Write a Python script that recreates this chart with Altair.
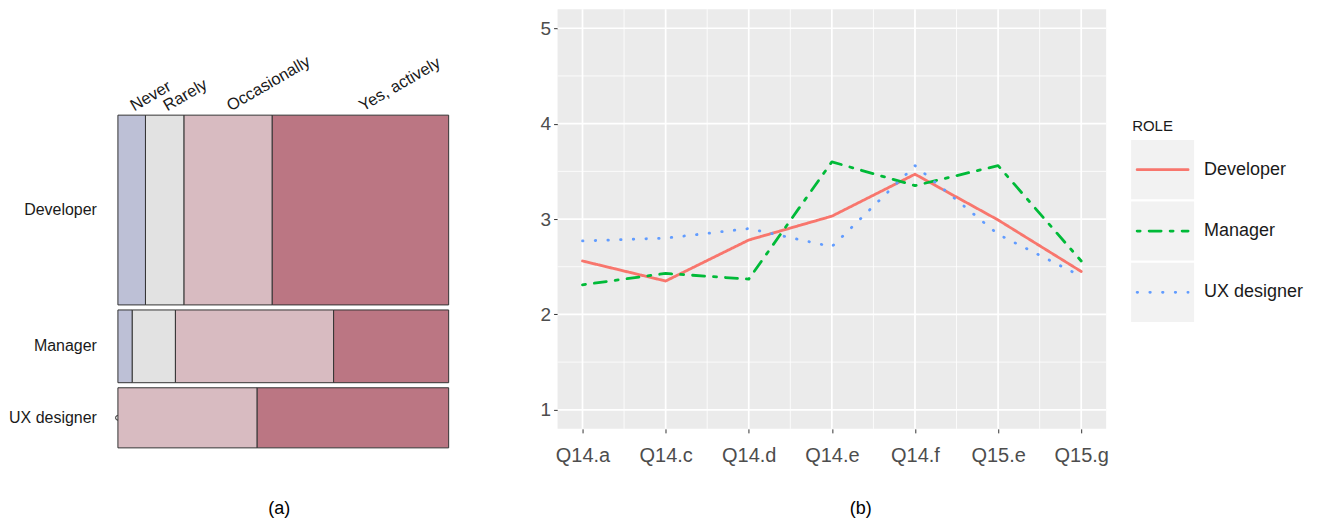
import altair as alt
import pandas as pd

# ---------------- (a) mosaic data ----------------
roles = ["Developer", "Manager", "UX designer"]
responses = ["Never", "Rarely", "Occasionally", "Yes, actively"]
resp_colors = ["#BDC0D6", "#E2E2E2", "#D8BBC1", "#BB7683"]
developer_counts = [5, 7, 16, 32]
manager_counts = [1, 3, 11, 8]
ux_counts = [0, 0, 8, 11]

# ---------------- (b) line data ----------------
questions = ["Q14.a", "Q14.c", "Q14.d", "Q14.e", "Q14.f", "Q15.e", "Q15.g"]
developer_scores = [2.56, 2.35, 2.78, 3.03, 3.47, 2.99, 2.45]
manager_scores = [2.31, 2.43, 2.37, 3.60, 3.35, 3.56, 2.56]
ux_scores = [2.77, 2.80, 2.90, 2.71, 3.56, 2.84, 2.40]
role_colors = ["#F8766D", "#00BA38", "#619CFF"]
role_dashes = [[1, 0], [3, 9, 12, 9], [0.5, 12.2]]

FONT = "Liberation Sans"

# ---------- build mosaic table ----------
GAP = 1.6    # gap between rows (count units)
TOP = 33.5   # empty space above the mosaic (count units)
counts_by_role = [developer_counts, manager_counts, ux_counts]
row_tot = [sum(c) for c in counts_by_role]
row_bottom = {}
yb = 0.0
for r, tot in reversed(list(zip(roles, row_tot))):
    row_bottom[r] = yb
    yb += tot + GAP
y_max = sum(row_tot) + GAP * (len(roles) - 1) + TOP

cells, zeros = [], []
for r, cnts, tot in zip(roles, counts_by_role, row_tot):
    cum = 0
    for resp, c in zip(responses, cnts):
        x0 = cum / tot
        x1 = (cum + c) / tot
        rec = dict(role=r, response=resp, x0=x0, x1=x1,
                   y0=row_bottom[r], y1=row_bottom[r] + tot,
                   yc=row_bottom[r] + tot / 2, xc=(x0 + x1) / 2)
        (cells if c > 0 else zeros).append(rec)
        cum += c
cells_df = pd.DataFrame(cells)
zeros_df = pd.DataFrame(zeros)
row_df = pd.DataFrame(dict(role=roles,
                           yc=[row_bottom[r] + t / 2 for r, t in zip(roles, row_tot)]))
top_df = cells_df[cells_df.role == roles[0]][["response", "xc", "y1"]]

xs = alt.Scale(domain=[0, 1], nice=False, zero=False)
ys = alt.Scale(domain=[0, y_max], nice=False, zero=False)
x_axis_a = alt.Axis(title="(a)", labels=False, ticks=False, domain=False, grid=False,
                    titleFontSize=18, titleFontWeight="normal", titleColor="#000000",
                    titleFont=FONT, titleX=161, titleY=61, titleAlign="center",
                    titleBaseline="middle")

zero_pts = alt.Chart(zeros_df).mark_point(shape="circle", filled=False, size=22,
                                          stroke="#333333", strokeWidth=1).encode(
    x=alt.X("x0:Q", scale=xs, axis=x_axis_a),
    y=alt.Y("yc:Q", scale=ys, axis=None))

rects = alt.Chart(cells_df).mark_rect(stroke="#333333", strokeWidth=1).encode(
    x=alt.X("x0:Q", scale=xs, axis=x_axis_a), x2="x1:Q",
    y=alt.Y("y0:Q", scale=ys, axis=None), y2="y1:Q",
    fill=alt.Fill("response:N", scale=alt.Scale(domain=responses, range=resp_colors),
                  legend=None))

row_labels = alt.Chart(row_df).mark_text(align="right", baseline="middle", dx=-21,
                                         fontSize=16, font=FONT, color="#1A1A1A").encode(
    x=alt.value(0), y=alt.Y("yc:Q", scale=ys, axis=None), text="role:N")

top_labels = alt.Chart(top_df).mark_text(align="left", baseline="alphabetic", angle=330,
                                         dy=-2, dx=4, fontSize=16.5, font=FONT,
                                         color="#1A1A1A").encode(
    x=alt.X("xc:Q", scale=xs, axis=x_axis_a),
    y=alt.Y("y1:Q", scale=ys, axis=None), text="response:N")

mosaic = alt.layer(zero_pts, rects, row_labels, top_labels).properties(
    width=331, height=439, view=alt.ViewBackground(stroke="transparent", strokeWidth=0))

# ---------- line chart ----------
line_rows = []
for r, vals in zip(roles, [developer_scores, manager_scores, ux_scores]):
    for i, (q, v) in enumerate(zip(questions, vals)):
        line_rows.append(dict(role=r, idx=i + 1, question=q, score=v))
line_df = pd.DataFrame(line_rows)

n_q = len(questions)
major_x = pd.DataFrame(dict(v=list(range(1, n_q + 1))))
minor_x = pd.DataFrame(dict(v=[i + 0.5 for i in range(1, n_q)]))
major_y = pd.DataFrame(dict(v=[1, 2, 3, 4, 5]))
minor_y = pd.DataFrame(dict(v=[1.5, 2.5, 3.5, 4.5]))

label_expr = "[" + ",".join("'%s'" % q for q in questions) + "][datum.value - 1]"
lx_scale = alt.Scale(domain=[0.7, n_q + 0.3], nice=False, zero=False)
ly_scale = alt.Scale(domain=[0.8, 5.2], nice=False, zero=False)
lx_axis = alt.Axis(values=list(range(1, n_q + 1)), labelExpr=label_expr, grid=False,
                   domain=False, tickColor="#333333", tickSize=4, labelPadding=13,
                   labelFontSize=20, labelColor="#4D4D4D", labelFont=FONT,
                   title="(b)", titleFontSize=18, titleFontWeight="normal",
                   titleColor="#000000", titleFont=FONT, titleX=303, titleY=80,
                   titleAlign="center", titleBaseline="middle")
ly_axis = alt.Axis(values=[1, 2, 3, 4, 5], format="d", grid=False, domain=False,
                   tickColor="#333333", tickSize=4, labelPadding=3, labelFontSize=19,
                   labelColor="#4D4D4D", labelFont=FONT, title=None)


def gx(df, w):
    return alt.Chart(df).mark_rule(color="#FFFFFF", strokeWidth=w).encode(
        x=alt.X("v:Q", scale=lx_scale, axis=lx_axis))


def gy(df, w):
    return alt.Chart(df).mark_rule(color="#FFFFFF", strokeWidth=w).encode(
        y=alt.Y("v:Q", scale=ly_scale, axis=ly_axis))


color_enc = alt.Color("role:N", scale=alt.Scale(domain=roles, range=role_colors), legend=None)
dash_enc = alt.StrokeDash("role:N", scale=alt.Scale(domain=roles, range=role_dashes),
                          legend=None)

lines = alt.Chart(line_df).mark_line(strokeWidth=2.8, strokeCap="round",
                                     strokeJoin="round").encode(
    x=alt.X("idx:Q", scale=lx_scale, axis=lx_axis),
    y=alt.Y("score:Q", scale=ly_scale, axis=ly_axis),
    color=color_enc, strokeDash=dash_enc, order="idx:Q")

line_chart = alt.layer(gx(minor_x, 0.8), gy(minor_y, 0.8), gx(major_x, 1.7),
                       gy(major_y, 1.7), lines).properties(
    width=549, height=420,
    view=alt.ViewBackground(fill="#EBEBEB", stroke="transparent", strokeWidth=0))

# ---------- legend ----------
leg_df = pd.DataFrame(dict(role=roles))
leg_y = alt.Scale(domain=roles, range=[131, 313], paddingInner=0.035, paddingOuter=0)
leg_keys = alt.Chart(leg_df).mark_rect(fill="#F2F2F2").encode(
    y=alt.Y("role:N", scale=leg_y, axis=None), x=alt.value(0), x2=alt.value(63))
leg_lines = alt.Chart(leg_df).mark_rule(strokeWidth=2.8, strokeCap="round").encode(
    y=alt.Y("role:N", scale=leg_y, axis=None, bandPosition=0.5),
    x=alt.value(6), x2=alt.value(57), color=color_enc, strokeDash=dash_enc)
leg_text = alt.Chart(leg_df).mark_text(align="left", baseline="middle", fontSize=18,
                                       font=FONT, color="#1A1A1A").encode(
    y=alt.Y("role:N", scale=leg_y, axis=None, bandPosition=0.5),
    x=alt.value(73), text="role:N")
leg_title = alt.Chart(pd.DataFrame(dict(t=["ROLE"]))).mark_text(
    align="left", baseline="middle", fontSize=15, font=FONT, color="#1A1A1A").encode(
    x=alt.value(1), y=alt.value(117), text="t:N")
legend_chart = alt.layer(leg_keys, leg_lines, leg_text, leg_title).properties(
    width=63, height=420, view=alt.ViewBackground(stroke="transparent", strokeWidth=0))

right = alt.hconcat(line_chart, legend_chart, spacing=25, bounds="flush")
chart = alt.hconcat(mosaic, right, spacing=109, bounds="flush").properties(
    padding={"left": 0, "top": 0, "right": 5, "bottom": 5}
).configure_view(stroke="transparent", strokeWidth=0).configure(font=FONT)

chart.save("out.html", embed_options={"renderer": "svg", "actions": False})
